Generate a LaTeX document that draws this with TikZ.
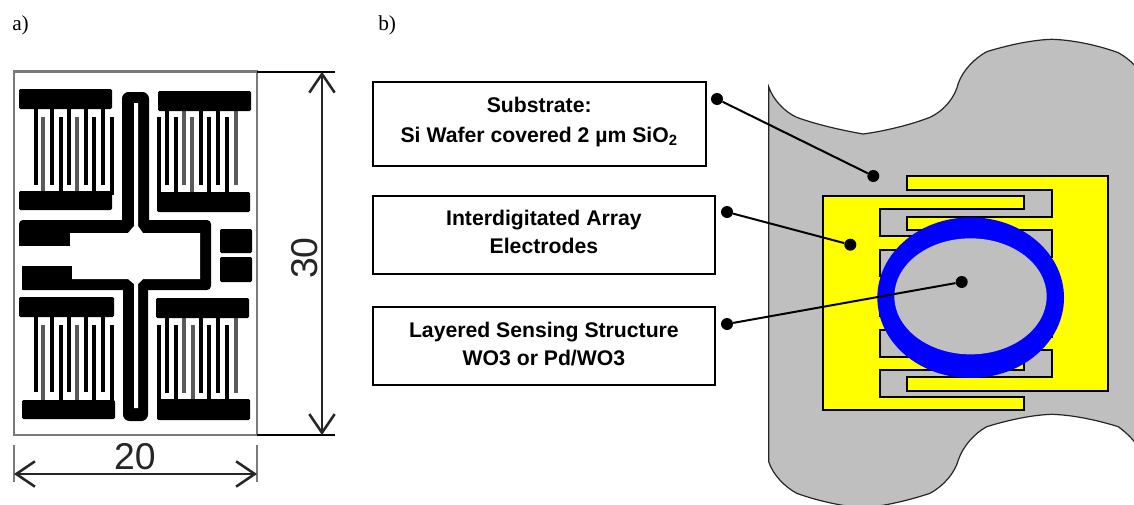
\documentclass[tikz,border=0pt]{standalone}
\usepackage{fontspec}
\setmainfont{Liberation Serif}
\newfontfamily\arialf{Liberation Sans}
\usetikzlibrary{arrows.meta}
\definecolor{subgray}{HTML}{BFBFBF}
\definecolor{ringblue}{HTML}{0000FF}
\definecolor{elyellow}{HTML}{FFFF00}
\definecolor{chipgray}{HTML}{7A7A7A}
\definecolor{fgray}{HTML}{5A5A5A}
\tikzset{
  panel/.style={font=\fontsize{16}{18}\selectfont, inner sep=0pt, anchor=west},
  textbox/.style={draw=black, line width=1.5pt, fill=white, inner sep=0pt},
  boxlab/.style={font=\arialf\bfseries\fontsize{15.9}{21}\selectfont, align=center, inner sep=0pt},
  dot/.style={circle, fill=black, inner sep=0pt, minimum size=9pt},
  leader/.style={line width=1.5pt, black},
  electrode/.style={draw=black, fill=elyellow, line width=1.6pt, line join=miter},
  pad/.style={fill=black, rounded corners=1pt},
  fblack/.style={line width=2.6pt, black},
  fgrey/.style={line width=3.2pt, fgray},
  dimline/.style={line width=1.3pt, black!85},
  dimarrow/.style={dimline, {Straight Barb[length=14pt,width=19pt,line width=1.9pt]}-{Straight Barb[length=14pt,width=19pt,line width=1.9pt]}},
  dimtext/.style={font=\arialf\fontsize{28}{30}\selectfont, inner sep=0pt, text=black!85},
}
\begin{document}
\begin{tikzpicture}[x=0.75pt,y=-0.75pt]
\useasboundingbox (0,0) rectangle (1134,504);
\fill[white] (0,0) rectangle (1134,504);

\node[panel] (pa) at (12,25) {a)};
\node[panel] (pb) at (378,25) {b)};

% ---------- a) chip ----------
\draw[chipgray, line width=1.9pt] (14,71.7) rectangle (257,435);
% fingers
\foreach \x in {36,52,69,86,103} \draw[fblack] (\x,105) -- (\x,185);
\foreach \x in {61,94,112} \draw[fblack] (\x,195) -- (\x,117);
\foreach \x in {43,77} \draw[fgrey] (\x,195) -- (\x,117);
\foreach \x in {167,201,218} \draw[fblack] (\x,105) -- (\x,185);
\foreach \x in {184,236} \draw[fgrey] (\x,105) -- (\x,185);
\foreach \x in {159,176,209,227} \draw[fblack] (\x,196) -- (\x,117);
\draw[fgrey] (192,196) -- (192,117);
\foreach \x in {36,52,69,86,103} \draw[fblack] (\x,312) -- (\x,392);
\foreach \x in {61,94,112} \draw[fblack] (\x,404) -- (\x,325);
\foreach \x in {43,77} \draw[fgrey] (\x,404) -- (\x,325);
\foreach \x in {167,201,218} \draw[fblack] (\x,312) -- (\x,393);
\foreach \x in {184,236} \draw[fgrey] (\x,312) -- (\x,393);
\foreach \x in {159,176,209,227} \draw[fblack] (\x,404) -- (\x,325);
\draw[fgrey] (193,404) -- (193,325);
% pads
\fill[pad] (19,89) rectangle (112,109);
\fill[pad] (19,191) rectangle (112,210);
\fill[pad] (158,91) rectangle (251,111);
\fill[pad] (157,192) rectangle (250,212);
\fill[pad] (19,297) rectangle (114,317);
\fill[pad] (22,400) rectangle (115,419);
\fill[pad] (156,298) rectangle (249,318);
\fill[pad] (157,399) rectangle (250,420);
\fill[pad] (220,229) rectangle (252,253);
\fill[pad] (220,257) rectangle (252,282);
% central guard structure
\fill[black, rounded corners=5pt] (122,92) rectangle (149,228);
\fill[black, rounded corners=5pt] (123,275) rectangle (148,421);
\fill[black, rounded corners=3pt] (19,220) rectangle (211,290);
\fill[white] (15,246) -- (70,246) -- (70,233) -- (128,233) -- (134,226) -- (134,103) -- (138,103)
  -- (138,226) -- (143,233) -- (200,233) -- (200,279) -- (143,279) -- (138,284) -- (138,408)
  -- (134,408) -- (134,284) -- (128,279) -- (72,279) -- (72,266) -- (15,266) -- cycle;
\fill[black] (22,266) rectangle (72,279);
\fill[white] (15,266) rectangle (21.5,291);
% dimensions
\coordinate (vtop) at (322,71.7);
\coordinate (vbot) at (322,435);
\coordinate (hl) at (14,474);
\coordinate (hr) at (257,474);
\draw[line width=1.3pt, black] (257,71.7) -- (335,71.7);
\draw[line width=1.3pt, black] (257,435) -- (335,435);
\draw[chipgray, line width=1.7pt] (14,445) -- (14,482);
\draw[chipgray, line width=1.7pt] (257,445) -- (257,482);
\draw[dimarrow] (vtop) -- (vbot);
\draw[dimarrow] (hl) -- (hr);
\node[dimtext, rotate=90] (d30) at (305,258) {30};
\node[dimtext] (d20) at (135,457) {20};

% ---------- b) substrate ----------
\draw[fill=subgray, draw=black!85, line width=0.9pt]
  (768.7,86.7) .. controls (773,100) and (785,112) .. (796.7,117.3)
  .. controls (815,124) and (840,130) .. (863.3,134)
  .. controls (885,131) and (910,125) .. (930,117.3)
  .. controls (945,110) and (955,97) .. (958.3,83.3)
  .. controls (963,70) and (975,58) .. (986.7,51.7)
  .. controls (1005,46) and (1030,40) .. (1051.7,39.3)
  .. controls (1075,40) and (1100,46) .. (1118.3,52.7)
  .. controls (1124,56) and (1130,60) .. (1136,67)
  -- (1136,443.7)
  .. controls (1130,436) and (1124,431) .. (1118.3,426.7)
  .. controls (1100,421) and (1075,415) .. (1051.7,414.3)
  .. controls (1030,415) and (1005,421) .. (986.7,426.7)
  .. controls (975,433) and (963,446) .. (958.3,460)
  .. controls (955,472) and (945,485) .. (930,493.3)
  .. controls (910,500) and (885,506) .. (863.3,508)
  .. controls (840,506) and (815,500) .. (796.7,493.3)
  .. controls (785,487) and (773,475) .. (768.7,461.7)
  -- cycle;

\begin{scope}[shift={(800,160)}, x=0.25pt, y=-0.25pt]
  \path[electrode] (322,48) -- (925,48) -- (925,692) -- (322,692) -- (322,652) -- (755,652)
    -- (755,570) -- (322,570) -- (322,530) -- (755,530) -- (755,450) -- (322,450) -- (322,410)
    -- (755,410) -- (755,330) -- (322,330) -- (322,290) -- (755,290) -- (755,210) -- (322,210)
    -- (322,170) -- (755,170) -- (755,90) -- (322,90) -- cycle;
  \path[electrode] (68,108) -- (673,108) -- (673,148) -- (241,148) -- (241,229) -- (673,229)
    -- (673,269) -- (241,269) -- (241,349) -- (673,349) -- (673,389) -- (241,389) -- (241,469)
    -- (673,469) -- (673,509) -- (241,509) -- (241,590) -- (673,590) -- (673,630) -- (241,630)
    -- (241,710) -- (673,710) -- (673,750) -- (68,750) -- cycle;
  \fill[ringblue] (512,413) ellipse [x radius=280, y radius=241];
  \fill[subgray] (511.5,409) ellipse [x radius=228.5, y radius=174];
\end{scope}

% ---------- labels ----------
\node[textbox, minimum width=249.8pt, minimum height=62.8pt,
  label={[boxlab, yshift=1.8pt]center:{Substrate:\\[1.5pt]Si Wafer covered 2 µm SiO\textsubscript{2}}}]
  (b1) at (539.2,124.2) {};
\node[textbox, minimum width=256.8pt, minimum height=58.5pt,
  label={[boxlab, yshift=2.2pt]center:{Interdigitated Array\\Electrodes}}]
  (b2) at (543.9,235) {};
\node[textbox, minimum width=256.8pt, minimum height=58.3pt,
  label={[boxlab, yshift=1.8pt]center:{Layered Sensing Structure\\WO3 or Pd/WO3}}]
  (b3) at (543.9,346.2) {};

\node[dot] (s1) at (717,99) {};
\node[dot] (e1) at (873.3,176) {};
\node[dot] (s2) at (727,212) {};
\node[dot] (e2) at (850.3,244.7) {};
\node[dot] (s3) at (727,324) {};
\node[dot] (e3) at (961.7,282) {};
\draw[leader] (s1) -- (e1);
\draw[leader] (s2) -- (e2);
\draw[leader] (s3) -- (e3);
\end{tikzpicture}
\end{document}
